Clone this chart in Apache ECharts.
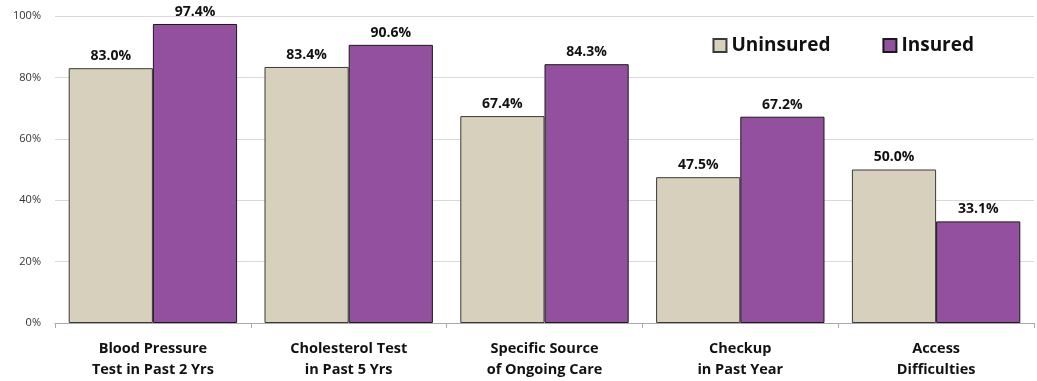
<!DOCTYPE html>
<html><head><meta charset="utf-8">
<script src="https://cdn.jsdelivr.net/npm/echarts@6/dist/echarts.min.js"></script>
<style>html,body{margin:0;padding:0;background:#fff}#c{width:1037px;height:381px}</style>
</head><body><div id="c"></div>
<script>
const categories = ["Blood Pressure\nTest in Past 2 Yrs","Cholesterol Test\nin Past 5 Yrs","Specific Source\nof Ongoing Care","Checkup\nin Past Year","Access\nDifficulties"];
const uninsured = [83.0, 83.4, 67.4, 47.5, 50.0];
const insured = [97.4, 90.6, 84.3, 67.2, 33.1];
const yTicks = [0, 20, 40, 60, 80, 100];
const FONT = "'Open Sans', 'DejaVu Sans', sans-serif";
const chart = echarts.init(document.getElementById('c'));
const lbl = {show:true, position:'top', distance:5, fontFamily:FONT, fontWeight:'bold', fontSize:14, color:'#111', formatter:p=>p.value.toFixed(1)+'%'};
chart.setOption({
  animation:false,
  textStyle:{fontFamily:FONT},
  legend:{right:58, top:31, itemWidth:13, itemHeight:13, itemGap:52,
    icon:'rect', textStyle:{fontFamily:FONT, fontWeight:'bold', fontSize:19, color:'#111'},
    data:['Uninsured','Insured']},
  grid:{left:55, right:3, top:16, bottom:58},
  xAxis:{type:'category', data:categories,
    axisLine:{lineStyle:{color:'#aaa'}},
    axisTick:{show:true, length:5, lineStyle:{color:'#aaa'}},
    axisLabel:{fontFamily:FONT, fontWeight:'bold', fontSize:14.5, color:'#111', lineHeight:21, margin:15}},
  yAxis:{type:'value', min:0, max:100, interval:20,
    axisLine:{show:false}, axisTick:{show:false},
    splitLine:{lineStyle:{color:'#d9d9d9'}},
    axisLabel:{fontFamily:FONT, fontSize:11, color:'#333', margin:14, formatter:v=>yTicks.includes(v)?v+'%':''}},
  series:[
    {name:'Uninsured', type:'bar', data:uninsured, barGap:'0%', barCategoryGap:'14%',
      itemStyle:{color:'#D6D0BC', borderColor:'#3a3a3a', borderWidth:1}, label:lbl},
    {name:'Insured', type:'bar', data:insured,
      itemStyle:{color:'#92509E', borderColor:'#1a1a1a', borderWidth:1}, label:lbl}
  ]
});
</script></body></html>
